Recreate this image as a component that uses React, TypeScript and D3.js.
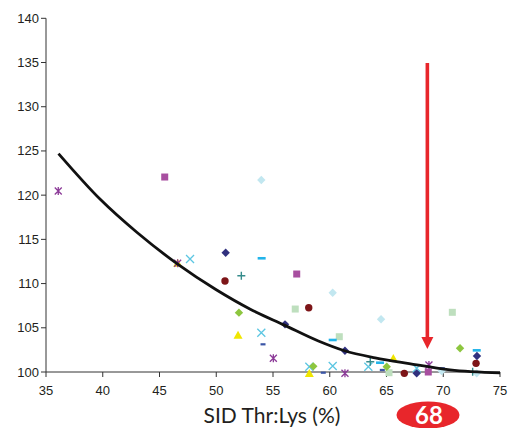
import React from "react";
import * as d3 from "d3";

const W = 515;
const H = 428;

const xTicks = [35, 40, 45, 50, 55, 60, 65, 70, 75];
const yTicks = [100, 105, 110, 115, 120, 125, 130, 135, 140];

// series: [x values], [y values]
const navyDiamondX = [50.83, 56.06, 61.34, 67.66, 72.97];
const navyDiamondY = [113.49, 105.39, 102.41, 99.85, 101.81];
const purpleSquareX = [45.46, 57.09, 68.68];
const purpleSquareY = [122.05, 111.08, 100.0];
const yellowTriangleX = [46.6, 51.92, 58.2, 65.6];
const yellowTriangleY = [112.29, 104.15, 99.83, 101.53];
const cyanXX = [47.69, 53.97, 58.2, 60.26, 63.4, 67.66];
const cyanXY = [112.78, 104.44, 100.6, 100.68, 100.6, 100.42];
const asteriskX = [36.08, 46.6, 55.03, 61.34, 68.74];
const asteriskY = [120.47, 112.29, 101.55, 99.85, 100.79];
const redCircleX = [50.77, 58.15, 66.57, 72.89];
const redCircleY = [110.29, 107.27, 99.85, 100.98];
const tealPlusX = [52.21, 63.57, 72.59];
const tealPlusY = [110.89, 101.16, 100.03];
const cyanDashX = [54.0, 60.26, 64.43, 72.95];
const cyanDashY = [112.86, 103.62, 101.05, 102.45];
const blueDashX = [54.12, 59.43, 64.63, 69.92];
const blueDashY = [103.13, 99.92, 100.23, 100.42];
const lightGreenSquareX = [56.96, 60.84, 65.22, 70.8];
const lightGreenSquareY = [107.12, 103.99, 99.92, 106.75];
const lightBlueDiamondX = [53.97, 60.26, 64.52, 69.86, 72.95];
const lightBlueDiamondY = [121.71, 108.97, 105.96, 100.11, 99.85];
const greenDiamondX = [52.0, 58.55, 65.02, 71.48];
const greenDiamondY = [106.71, 100.64, 100.6, 102.68];

// fitted trend curve
const curveX = [36.1, 39.8, 43, 46.6, 50, 53, 56, 59, 61.3, 64, 67, 70.6, 75];
const curveY = [124.7, 119.5, 115.8, 112.2, 109.3, 107.1, 105.3, 103.5, 102.4, 101.6, 100.95, 100.25, 99.9];

const optimumValue = 68.6;
const optimumLabel = "68";
const xTitle = "SID Thr:Lys (%)";

type Shape = "diamond" | "square" | "triangle" | "x" | "asterisk" | "circle" | "plus" | "dash" | "shortdash";

const seriesList: { xs: number[]; ys: number[]; shape: Shape; color: string }[] = [
  { xs: lightBlueDiamondX, ys: lightBlueDiamondY, shape: "diamond", color: "#C2E7F0" },
  { xs: lightGreenSquareX, ys: lightGreenSquareY, shape: "square", color: "#BEDFBE" },
  { xs: purpleSquareX, ys: purpleSquareY, shape: "square", color: "#A84FA0" },
  { xs: yellowTriangleX, ys: yellowTriangleY, shape: "triangle", color: "#F0E600" },
  { xs: cyanXX, ys: cyanXY, shape: "x", color: "#5CC6E2" },
  { xs: asteriskX, ys: asteriskY, shape: "asterisk", color: "#8C3A98" },
  { xs: redCircleX, ys: redCircleY, shape: "circle", color: "#7D1518" },
  { xs: tealPlusX, ys: tealPlusY, shape: "plus", color: "#368C8C" },
  { xs: cyanDashX, ys: cyanDashY, shape: "dash", color: "#22B4EA" },
  { xs: blueDashX, ys: blueDashY, shape: "shortdash", color: "#3A55A6" },
  { xs: greenDiamondX, ys: greenDiamondY, shape: "diamond", color: "#8DC63F" },
  { xs: navyDiamondX, ys: navyDiamondY, shape: "diamond", color: "#30307E" },
];

function Marker({ cx, cy, shape, color }: { cx: number; cy: number; shape: Shape; color: string }) {
  switch (shape) {
    case "diamond":
      return <path d={`M${cx},${cy - 4.2}L${cx + 4.2},${cy}L${cx},${cy + 4.2}L${cx - 4.2},${cy}Z`} fill={color} />;
    case "square":
      return <rect x={cx - 3.5} y={cy - 3.5} width={7} height={7} fill={color} />;
    case "triangle":
      return <path d={`M${cx},${cy - 4.5}L${cx + 4.5},${cy + 3.5}L${cx - 4.5},${cy + 3.5}Z`} fill={color} />;
    case "circle":
      return <circle cx={cx} cy={cy} r={3.7} fill={color} />;
    case "x":
      return (
        <path d={`M${cx - 4},${cy - 4}L${cx + 4},${cy + 4}M${cx - 4},${cy + 4}L${cx + 4},${cy - 4}`} stroke={color} strokeWidth={1.3} fill="none" />
      );
    case "asterisk":
      return (
        <path
          d={`M${cx - 3.5},${cy - 3.5}L${cx + 3.5},${cy + 3.5}M${cx - 3.5},${cy + 3.5}L${cx + 3.5},${cy - 3.5}M${cx},${cy - 4}L${cx},${cy + 4}`}
          stroke={color}
          strokeWidth={1.3}
          fill="none"
        />
      );
    case "plus":
      return <path d={`M${cx - 4},${cy}L${cx + 4},${cy}M${cx},${cy - 4}L${cx},${cy + 4}`} stroke={color} strokeWidth={1.4} fill="none" />;
    case "dash":
      return <rect x={cx - 4} y={cy - 1.3} width={8} height={2.6} fill={color} />;
    case "shortdash":
      return <rect x={cx - 2.5} y={cy - 1.1} width={5} height={2.2} fill={color} />;
  }
  return null;
}

export default function App() {
  const x = d3.scaleLinear().domain([35, 75]).range([46, 500]);
  const y = d3.scaleLinear().domain([100, 140]).range([372, 18.3]);

  const line = d3
    .line<number>()
    .x((_, i) => x(curveX[i]))
    .y((d) => y(d))
    .curve(d3.curveMonotoneX);

  const ax = x(optimumValue);
  const axisColor = "#333333";
  const tickFont = "'Liberation Sans', Arial, sans-serif";

  return (
    <div style={{ position: "absolute", left: 0, top: 0 }}>
      <svg width={W} height={H} style={{ display: "block", background: "#fff" }}>
        {/* axes */}
        <line x1={46} x2={46} y1={18.3} y2={372} stroke={axisColor} strokeWidth={1} />
        <line x1={46} x2={500} y1={372} y2={372} stroke={axisColor} strokeWidth={1} />
        {yTicks.map((t) => (
          <g key={"y" + t}>
            <line x1={41} x2={46} y1={y(t)} y2={y(t)} stroke={axisColor} strokeWidth={1} />
            <text x={39} y={y(t) + 4.5} textAnchor="end" fontSize={13} fontFamily={tickFont} fill="#231F20">
              {t}
            </text>
          </g>
        ))}
        {xTicks.map((t) => (
          <g key={"x" + t}>
            <line x1={x(t)} x2={x(t)} y1={372} y2={377} stroke={axisColor} strokeWidth={1} />
            <text x={x(t)} y={395} textAnchor="middle" fontSize={13} fontFamily={tickFont} fill="#231F20">
              {t}
            </text>
          </g>
        ))}

        {/* markers */}
        {seriesList.map((s, si) =>
          s.xs.map((vx, i) => <Marker key={si + "-" + i} cx={x(vx)} cy={y(s.ys[i])} shape={s.shape} color={s.color} />)
        )}

        {/* trend curve */}
        <path d={line(curveY) || ""} fill="none" stroke="#111" strokeWidth={2.8} />

        {/* arrow */}
        <line x1={ax} x2={ax} y1={63} y2={340} stroke="#E8262B" strokeWidth={3.6} />
        <path d={`M${ax - 6},${337}L${ax + 6},${337}L${ax},${349}Z`} fill="#E8262B" />

        {/* x title */}
        <text x={272} y={422.5} textAnchor="middle" fontSize={21} fontFamily="Lato, 'Open Sans', sans-serif" fill="#231F20">
          {xTitle}
        </text>

        {/* optimum badge */}
        <ellipse cx={428} cy={415} rx={31.5} ry={13.5} fill="#E8262B" />
        <text x={429} y={424} textAnchor="middle" fontSize={24} fontWeight="bold" fontFamily="Lato, 'Open Sans', sans-serif" fill="#fff">
          {optimumLabel}
        </text>
      </svg>
    </div>
  );
}
